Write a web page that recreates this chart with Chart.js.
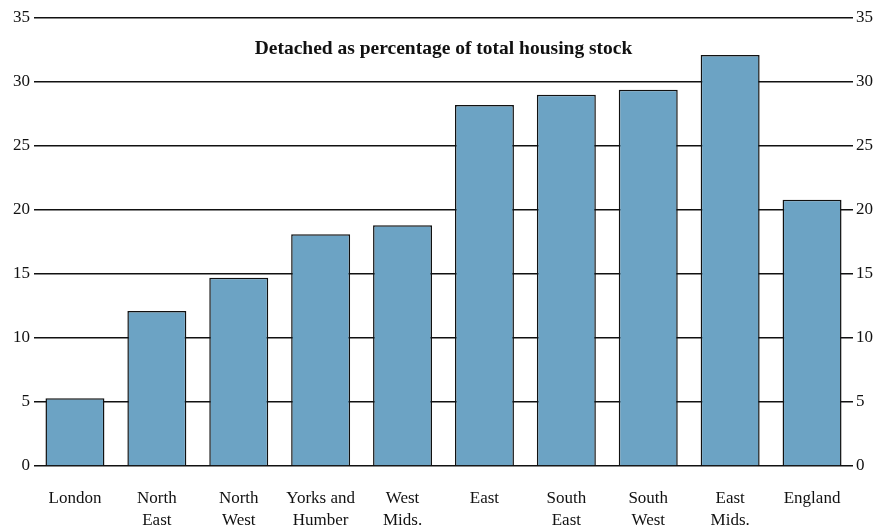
<!DOCTYPE html>
<html>
<head>
<meta charset="utf-8">
<script src="https://cdn.jsdelivr.net/npm/chart.js@4/dist/chart.umd.min.js"></script>
<style>
    html, body { margin: 0; padding: 0; background: #fff; }
    #wrap { width: 880px; height: 529px; position: relative; }
</style>
</head>
<body>
<div id="wrap"><canvas id="detachedChart"></canvas></div>
<script>
const regions = [
    'London', ['North', 'East'], ['North', 'West'], ['Yorks and', 'Humber'], ['West', 'Mids.'],
    'East', ['South', 'East'], ['South', 'West'], ['East', 'Mids.'], 'England'
];
const detachedShare = [5.3, 12.1, 14.7, 18.1, 18.8, 28.2, 29.0, 29.4, 32.1, 20.8];
const yTicks = [0, 5, 10, 15, 20, 25, 30, 35];
const chartTitle = 'Detached as percentage of total housing stock';

(function () {
    const serif = '"Liberation Serif", "DejaVu Serif", serif';

    // title sits inside the plot area, not above it
    const innerTitle = {
        id: 'innerTitle',
        afterDraw(chart) {
            const area = chart.chartArea;
            const y = chart.scales.y.getPixelForValue(32.6);
            const ctx = chart.ctx;
            ctx.save();
            ctx.font = 'bold 19.5px ' + serif;
            ctx.fillStyle = '#111';
            ctx.textAlign = 'center';
            ctx.textBaseline = 'middle';
            ctx.fillText(chartTitle, (area.left + area.right) / 2, y);
            ctx.restore();
        }
    };

    const tickFont = { family: serif, size: 17, lineHeight: 1.27 };

    new Chart(document.getElementById('detachedChart'), {
        type: 'bar',
        data: {
            labels: regions,
            datasets: [{
                label: chartTitle,
                data: detachedShare,
                backgroundColor: '#6ca3c4',
                borderColor: '#111',
                borderWidth: 1.5,
                borderSkipped: 'bottom',
                categoryPercentage: 1,
                barPercentage: 0.72
            }]
        },
        options: {
            responsive: true,
            maintainAspectRatio: false,
            animation: false,
            layout: { padding: { top: 18, bottom: 0, left: 0, right: 0 } },
            plugins: { legend: { display: false }, tooltip: { enabled: false } },
            scales: {
                x: {
                    grid: { display: false },
                    border: { display: false },
                    ticks: { color: '#111', font: tickFont, padding: 14, maxRotation: 0, autoSkip: false },
                    afterFit(scale) { scale.height = 63; }
                },
                y: {
                    position: 'left',
                    min: 0,
                    max: 35,
                    afterBuildTicks(scale) { scale.ticks = yTicks.map(v => ({ value: v })); },
                    grid: { color: '#111', lineWidth: 1.4, drawTicks: false },
                    border: { display: false },
                    ticks: { color: '#111', font: tickFont, padding: 4 },
                    afterFit(scale) { scale.width = 34; }
                },
                y2: {
                    position: 'right',
                    min: 0,
                    max: 35,
                    afterBuildTicks(scale) { scale.ticks = yTicks.map(v => ({ value: v })); },
                    grid: { display: false, drawTicks: false },
                    border: { display: false },
                    ticks: { color: '#111', font: tickFont, padding: 3 },
                    afterFit(scale) { scale.width = 27; }
                }
            }
        },
        plugins: [innerTitle]
    });
})();
</script>
</body>
</html>
